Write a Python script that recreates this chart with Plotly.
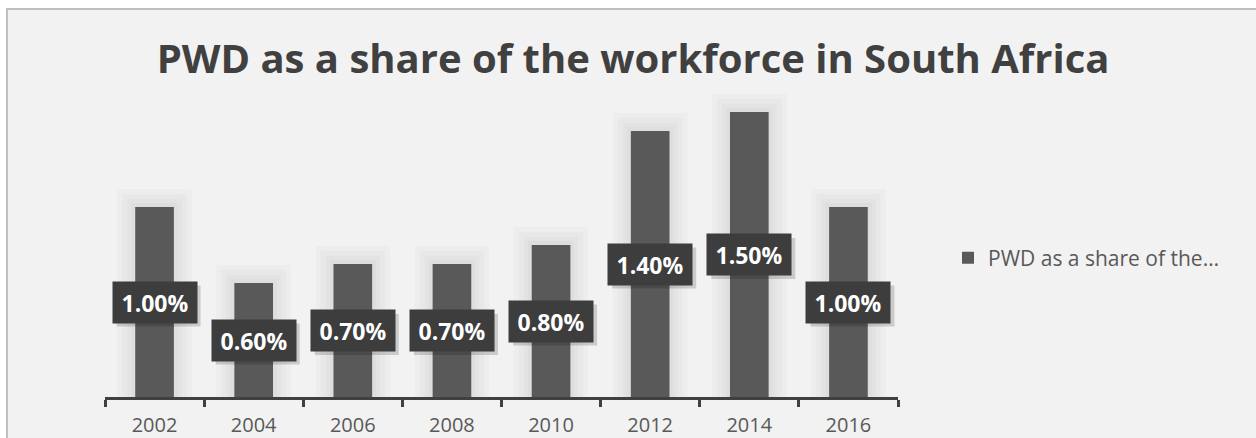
import plotly.graph_objects as go

# Share of persons with disabilities (PWD) in the South African workforce, %
years = ["2002", "2004", "2006", "2008", "2010", "2012", "2014", "2016"]
share_pct = [1.00, 0.60, 0.70, 0.70, 0.80, 1.40, 1.50, 1.00]
series_name = "PWD as a share of the…"
title_text = "PWD as a share of the workforce in South Africa"

W, H = 1256, 438
FONT = "Open Sans"
BAR_COLOR = "#595959"
BAR_WIDTH = 0.39
BOX_W, BOX_H = 84, 41

fig = go.Figure()

# soft halo around each column: stacked translucent outlines
for lw in (36, 26, 16, 8):
    fig.add_trace(go.Bar(
        x=years, y=share_pct, width=BAR_WIDTH,
        marker=dict(color="rgba(0,0,0,0)",
                    line=dict(color="rgba(0,0,0,0.018)", width=lw)),
        showlegend=False, hoverinfo="skip",
    ))

fig.add_trace(go.Bar(
    x=years, y=share_pct, width=BAR_WIDTH, name=series_name,
    marker=dict(color=BAR_COLOR, line=dict(width=0)),
))

# value labels: dark boxes centred on each column, with a drop shadow
annotations = []
shapes = [dict(type="rect", xref="paper", yref="paper", layer="below",
               x0=7 / W, x1=1.01, y0=-0.05, y1=1 - 9 / H,
               fillcolor="#f2f2f2", line=dict(color="#bfbfbf", width=2))]
for i, v in enumerate(share_pct):
    shapes.append(dict(
        type="rect", layer="above", xref="x", yref="y",
        xsizemode="pixel", ysizemode="pixel", xanchor=i, yanchor=v / 2,
        x0=-BOX_W / 2 + 4, x1=BOX_W / 2 + 4, y0=-BOX_H / 2 - 4, y1=BOX_H / 2 - 4,
        fillcolor="rgba(0,0,0,0.16)", line=dict(width=0),
    ))
    annotations.append(dict(
        x=i, y=v / 2, xref="x", yref="y", showarrow=False,
        text=f"<b>{v:.2f}%</b>", width=BOX_W - 12, height=BOX_H - 12,
        borderpad=6, align="center", valign="middle", bgcolor="#3d3d3d",
        font=dict(family=FONT, size=23, color="#ffffff"),
    ))

fig.update_layout(
    width=W, height=H,
    margin=dict(l=0, r=0, t=0, b=0),
    paper_bgcolor="#ffffff",
    plot_bgcolor="rgba(0,0,0,0)",
    barmode="overlay",
    title=dict(text=f"<b>{title_text}</b>", x=0.504, xanchor="center",
               y=1 - 59 / H, yanchor="middle",
               font=dict(family=FONT, size=40, color="#404040")),
    xaxis=dict(
        domain=[105 / W, 898 / W],
        type="category",
        categoryorder="array", categoryarray=years,
        range=[-0.5, len(years) - 0.5],
        showgrid=False, zeroline=False,
        showline=True, linecolor="#404040", linewidth=3,
        ticks="outside", tickson="boundaries", ticklen=7, tickwidth=3,
        tickcolor="#404040", tickangle=0, ticklabelstandoff=8,
        tickfont=dict(family=FONT, size=20, color="#595959"),
        automargin=False, fixedrange=True,
    ),
    yaxis=dict(
        domain=[(H - 397) / H, (H - 93) / H],
        range=[0, 1.6],
        visible=False, fixedrange=True,
    ),
    legend=dict(
        x=948 / W, y=1 - 258 / H, xanchor="left", yanchor="middle",
        xref="paper", yref="paper",
        bgcolor="rgba(0,0,0,0)",
        font=dict(family=FONT, size=21, color="#595959"),
        itemwidth=30,
    ),
    showlegend=True,
    annotations=annotations,
    shapes=shapes,
)

fig.write_html("out.html")
